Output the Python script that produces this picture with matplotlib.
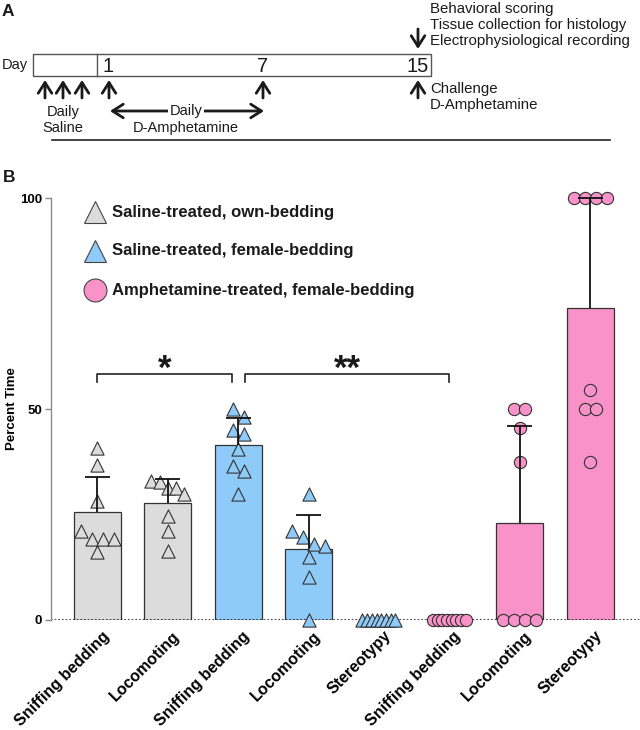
import numpy as np
import matplotlib
matplotlib.use("Agg")
import matplotlib.pyplot as plt
import matplotlib.transforms as mtransforms

plt.rcParams['font.family'] = ['Liberation Sans', 'DejaVu Sans']

# ---- panel B data (percent time) ----
behaviours = ["Sniffing bedding", "Locomoting",
              "Sniffing bedding", "Locomoting", "Stereotypy",
              "Sniffing bedding", "Locomoting", "Stereotypy"]
groups = ["sal_own", "sal_own",
          "sal_fem", "sal_fem", "sal_fem",
          "amph_fem", "amph_fem", "amph_fem"]
means = [25.5, 27.8, 41.5, 16.8, 0, 0, 23.0, 74.0]
sds = [8.3, 5.6, 6.4, 8.2, 0, 0, 23.0, 26.0]
points = [
    [40.8, 36.7, 28.3, 21.2, 19.2, 19.2, 19.2, 16.1],
    [33.0, 32.8, 31.3, 31.3, 29.8, 24.6, 21.1, 16.4],
    [49.9, 48.1, 45.1, 44.0, 40.6, 36.6, 35.3, 29.9],
    [29.8, 21.2, 19.7, 17.9, 17.5, 14.9, 10.1, 0],
    [0, 0, 0, 0, 0, 0, 0, 0],
    [0, 0, 0, 0, 0, 0, 0, 0],
    [50, 50, 45.6, 37.5, 0, 0, 0, 0],
    [100, 100, 100, 100, 54.5, 50, 50, 37.5],
]
comparisons = [(0, 2, "*"), (2, 5, "**")]

legend_labels = {"sal_own": "Saline-treated, own-bedding",
                 "sal_fem": "Saline-treated, female-bedding",
                 "amph_fem": "Amphetamine-treated, female-bedding"}
styles = {"sal_own": ("#dcdcdc", "^"),
          "sal_fem": ("#8ecbf8", "^"),
          "amph_fem": ("#f892c8", "o")}

EDGE = "#333333"
INK = "#1a1a1a"


def swarm_offsets(vals, tol, step, span):
    # spread points with near-equal values side by side (px offsets)
    vals = np.asarray(vals, dtype=float)
    order = np.argsort(-vals, kind="stable")
    clusters = []
    for i in order:
        if clusters and vals[clusters[-1][-1]] - vals[i] < tol:
            clusters[-1].append(i)
        else:
            clusters.append([i])
    offs = np.zeros(len(vals))
    for c in clusters:
        n = len(c)
        if n > 1:
            s = min(step, span / (n - 1))
            for k, i in enumerate(c):
                offs[i] = (k - (n - 1) / 2) * s
    return offs


fig = plt.figure(figsize=(6.4, 7.3), dpi=100)

# ---- panel B ----
ax = fig.add_axes([50.7 / 640, 110 / 730, 589.3 / 640, 422 / 730])
ax.set_facecolor("none")
x_left, x_right = -0.665, 7.71
ax.set_xlim(x_left, x_right)
ax.set_ylim(0, 100)

xs = np.arange(len(behaviours))
bar_cols = [styles[g][0] for g in groups]
ax.bar(xs, means, width=0.668, color=bar_cols, edgecolor=EDGE, linewidth=0.9, zorder=2)
ax.axhline(0, color="#222222", lw=1.2, ls=(0, (1, 1.2)), zorder=2.5)

px_x = fig.get_figwidth() * fig.dpi * ax.get_position().width / (x_right - x_left)
px_y = fig.get_figheight() * fig.dpi * ax.get_position().height / 100.0

for i, vals in enumerate(points):
    col, mk = styles[groups[i]]
    offs = swarm_offsets(vals, tol=10.5 / px_y, step=11, span=33)
    ms = 9.5 if mk == "^" else 8.8
    ax.scatter(i + offs / px_x, vals, s=ms ** 2, marker=mk, facecolor=col,
               edgecolor="#333333", linewidths=0.8, zorder=3, clip_on=False)

cap = 12.5 / px_x
for i, (m, s) in enumerate(zip(means, sds)):
    if s > 0:
        ax.vlines(i, m, m + s, color="#111111", lw=1.3, zorder=4)
        ax.hlines(m + s, i - cap, i + cap, color="#111111", lw=1.3, zorder=4, clip_on=False)

# significance brackets
gap = 6.5 / px_x
by, drop = 58.3, 2.0
for a, b, star in comparisons:
    x0 = a + (gap if a == 2 else 0)
    x1 = b - (gap if b == 2 else 0)
    ax.plot([x0, x0, x1, x1], [by - drop, by, by, by - drop], color="#222222", lw=1.2,
            zorder=4)
    ax.text((x0 + x1) / 2, by + 1.0, star, fontsize=25, fontweight="bold",
            ha="center", va="center", color=INK)

for sp in ["top", "right", "bottom"]:
    ax.spines[sp].set_visible(False)
ax.spines["left"].set_color("#8a8a8a")
ax.spines["left"].set_linewidth(1)
ax.spines["left"].set_bounds(0, 100)

ax.set_yticks([0, 50, 100])
ax.set_yticklabels(["0", "50", "100"], fontsize=9.5, fontweight="bold")
ax.tick_params(axis="y", length=4, width=1, color="#8a8a8a", pad=2)
ax.set_ylabel("Percent Time", fontsize=9.5, fontweight="bold")
ax.yaxis.set_label_coords(-0.055, 0.5)

ax.set_xticks(xs)
ax.set_xticklabels(behaviours, rotation=45, ha="right", va="top", rotation_mode="anchor",
                   fontsize=11.5, fontweight="bold")
ax.tick_params(axis="x", length=0, pad=6)
shift = mtransforms.ScaledTranslation(3 / 72, 0, fig.dpi_scale_trans)
for lbl in ax.get_xticklabels():
    lbl.set_transform(lbl.get_transform() + shift)

# overlay in pixel coordinates for schematic (panel A), letters, legend
ov = fig.add_axes([0, 0, 1, 1])
ov.set_xlim(0, 640)
ov.set_ylim(730, 0)
ov.axis("off")

ov.text(2, 11, "A", fontsize=12.5, fontweight="bold", va="center", ha="left", color=INK)
ov.text(3, 178, "B", fontsize=12.5, fontweight="bold", va="center", ha="left", color=INK)

# timeline box
ov.add_patch(plt.Rectangle((33, 53.5), 398, 22.5, fill=False, ec="#555555", lw=1))
ov.plot([97.3, 97.3], [53.5, 76], color="#555555", lw=1)
ov.text(28, 65, "Day", fontsize=10.5, ha="right", va="center", color=INK)
day_labels = [("1", 108), ("7", 263), ("15", 418)]
for lab, x in day_labels:
    ov.text(x, 66, lab, fontsize=14.5, ha="center", va="center", color=INK)

arrow_kw = dict(arrowstyle="->,head_length=0.55,head_width=0.35", lw=2,
                color=INK, shrinkA=0, shrinkB=0, mutation_scale=14)
for x in [45, 63, 82, 109, 263, 418]:
    ov.annotate("", xy=(x, 80), xytext=(x, 98), arrowprops=arrow_kw)
ov.annotate("", xy=(418, 49), xytext=(418, 29), arrowprops=arrow_kw)
ov.annotate("", xy=(110, 111), xytext=(264, 111),
            arrowprops=dict(arrowstyle="<->,head_length=0.55,head_width=0.35", lw=2,
                            color=INK, shrinkA=0, shrinkB=0, mutation_scale=14))

ov.text(63, 112, "Daily", fontsize=10.5, ha="center", va="center", color=INK)
ov.text(63, 128, "Saline", fontsize=10.5, ha="center", va="center", color=INK)
ov.text(186, 111, "Daily", fontsize=10.5, ha="center", va="center", color=INK,
        bbox=dict(fc="white", ec="none", pad=1.5))
ov.text(186, 128, "D-Amphetamine", fontsize=10.5, ha="center", va="center", color=INK)
for txt, y in [("Behavioral scoring", 9), ("Tissue collection for histology", 25),
               ("Electrophysiological recording", 41), ("Challenge", 89),
               ("D-Amphetamine", 105)]:
    ov.text(430, y, txt, fontsize=10.8, ha="left", va="center", color=INK)
ov.plot([52, 610], [140, 140], color="#222222", lw=1.2)

# legend
for k, (g, lab) in enumerate(legend_labels.items()):
    col, mk = styles[g]
    y = 212 + k * 39
    ov.plot([95], [y], marker=mk, ms=16.5, mfc=col, mec="#444444", mew=0.8, ls="none")
    ov.text(112, y, lab, fontsize=12, fontweight="bold", ha="left", va="center", color=INK)

fig.savefig("out.png", dpi=100)
